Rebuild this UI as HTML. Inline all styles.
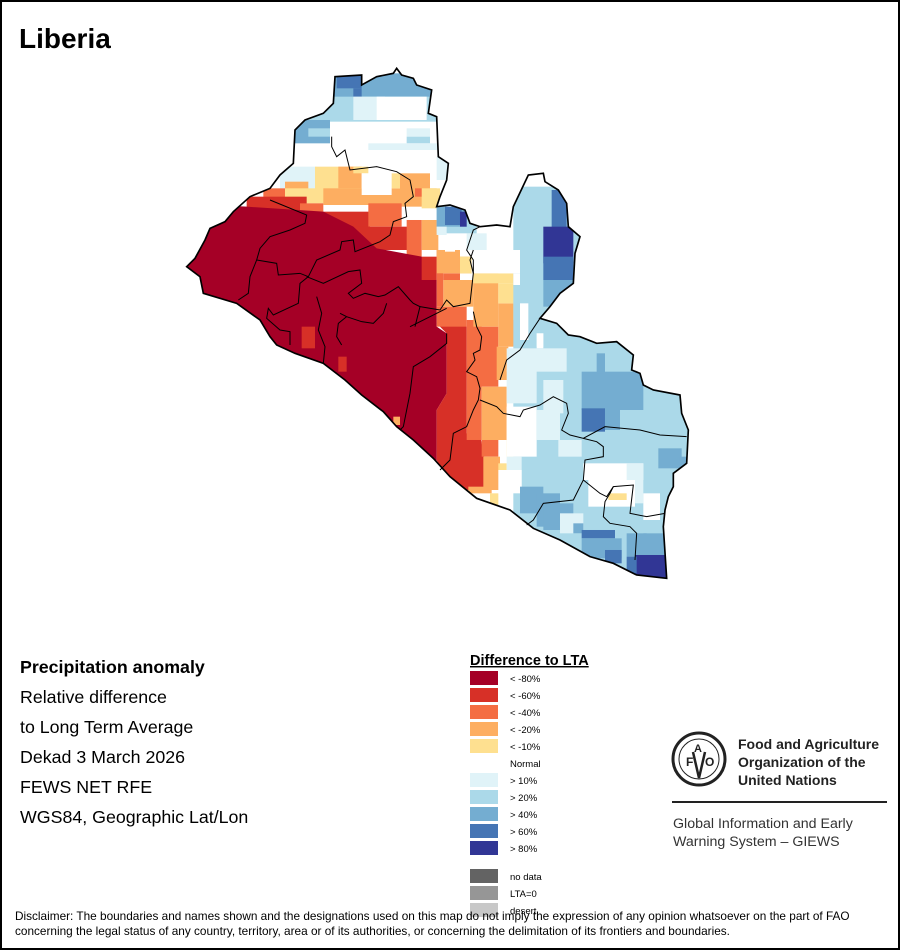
<!DOCTYPE html>
<html><head><meta charset="utf-8"><style>
html,body{margin:0;padding:0;background:#fff}
#root{position:relative;width:900px;height:950px;box-sizing:border-box;border:2px solid #000;overflow:hidden;font-family:"Liberation Sans",Arial,sans-serif}
svg{position:absolute;left:-2px;top:-2px}
</style></head><body>
<div id="root">
<svg id="svg" width="900" height="950" viewBox="0 0 900 950">
<defs>
<clipPath id="clip"><polygon id="outlineClip" points=""/></clipPath>
</defs>
<text x="19" y="48" font-size="28" font-weight="bold">Liberia</text>
<g id="mapg" transform="translate(180,60) scale(0.33333)">
<g clip-path="url(#clip)" id="fills"></g>
<g id="bounds" fill="none" stroke="#000" stroke-width="3"></g>
<polygon id="outline" fill="none" stroke="#000" stroke-width="5" points=""/>
</g>
<g font-size="17.8" fill="#000">
<text x="20" y="673" font-weight="bold">Precipitation anomaly</text>
<text x="20" y="703">Relative difference</text>
<text x="20" y="733">to Long Term Average</text>
<text x="20" y="763">Dekad 3 March 2026</text>
<text x="20" y="793">FEWS NET RFE</text>
<text x="20" y="823">WGS84, Geographic Lat/Lon</text>
</g>
<g id="legend">
<text x="470" y="665" font-size="14.5" font-weight="bold" text-decoration="underline">Difference to LTA</text>
</g>
<g>
<circle cx="699" cy="759" r="26" fill="none" stroke="#222" stroke-width="3"/>
<circle cx="699" cy="759" r="20" fill="none" stroke="#222" stroke-width="1"/>
<text x="686" y="766" font-size="12" font-weight="bold" fill="#222">F</text>
<text x="694" y="752" font-size="11" font-weight="bold" fill="#222">A</text>
<text x="705" y="766" font-size="12" font-weight="bold" fill="#222">O</text>
<path d="M693 752 L699 778 L705 752" fill="none" stroke="#222" stroke-width="2.5"/>
<text x="738" y="749" font-size="14" font-weight="bold" fill="#222">Food and Agriculture</text>
<text x="738" y="767" font-size="14" font-weight="bold" fill="#222">Organization of the</text>
<text x="738" y="785" font-size="14" font-weight="bold" fill="#222">United Nations</text>
<rect x="672" y="801" width="215" height="2" fill="#222"/>
<text x="673" y="828" font-size="14.2" fill="#333">Global Information and Early</text>
<text x="673" y="846" font-size="14.2" fill="#333">Warning System – GIEWS</text>
</g>
<g font-size="11.8" fill="#000">
<text x="15" y="920">Disclaimer: The boundaries and names shown and the designations used on this map do not imply the expression of any opinion whatsoever on the part of FAO</text>
<text x="15" y="935">concerning the legal status of any country, territory, area or of its authorities, or concerning the delimitation of its frontiers and boundaries.</text>
</g>
</svg>
</div>
<script>
const legendLabels=["< -80%","< -60%","< -40%","< -20%","< -10%","Normal","> 10%","> 20%","> 40%","> 60%","> 80%"];
const legendColors=["#a50026","#d73027","#f46d43","#fdae61","#fee090","#ffffff","#e0f3f8","#abd9e9","#74add1","#4575b4","#313695"];
const extraLabels=["no data","LTA=0","desert"];
const extraColors=["#636363","#969696","#c8c8c8"];
const NS="http://www.w3.org/2000/svg";
const lg=document.getElementById('legend');
function legRow(y,color,label){
  const r=document.createElementNS(NS,'rect');
  r.setAttribute('x',470);r.setAttribute('y',y);r.setAttribute('width',28);r.setAttribute('height',14);r.setAttribute('fill',color);
  
  
  lg.appendChild(r);
  const t=document.createElementNS(NS,'text');
  t.setAttribute('x',510);t.setAttribute('y',y+11);t.setAttribute('font-size','9.5');t.textContent=label;
  
  
  lg.appendChild(t);
}
legendLabels.forEach((l,i)=>legRow(671+i*17,legendColors[i],l));
extraLabels.forEach((l,i)=>legRow(869+i*17,extraColors[i],l));

const outline="20,620 45,595 75,540 90,505 135,485 160,455 210,410 270,385 300,345 340,310 345,210 375,180 430,160 460,130 465,50 545,45 545,75 590,50 640,40 650,25 665,45 700,55 710,75 755,90 745,160 770,170 775,290 805,310 800,360 780,410 770,440 810,435 855,450 870,490 900,500 950,495 990,500 1000,440 1045,345 1090,340 1095,365 1135,390 1160,430 1165,500 1200,530 1185,580 1180,670 1140,700 1110,740 1080,775 1130,790 1165,825 1200,830 1250,850 1310,845 1360,885 1355,930 1380,940 1390,975 1420,990 1500,1005 1505,1060 1525,1110 1520,1210 1480,1240 1480,1280 1465,1310 1455,1350 1450,1400 1460,1555 1370,1545 1300,1510 1230,1490 1140,1440 1060,1405 990,1350 890,1315 810,1250 760,1195 700,1140 650,1100 610,1055 545,1005 495,960 430,910 345,880 290,855 270,830 240,780 170,730 70,700 60,650";
document.getElementById('outline').setAttribute('points',outline);
document.getElementById('outlineClip').setAttribute('points',outline);

const fills=document.getElementById('fills');
function poly(c,pts){const p=document.createElementNS(NS,'polygon');p.setAttribute('points',pts);p.setAttribute('fill',c);fills.appendChild(p);}
function rect(c,x,y,w,h){const r=document.createElementNS(NS,'rect');r.setAttribute('x',x);r.setAttribute('y',y);r.setAttribute('width',w);r.setAttribute('height',h);r.setAttribute('fill',c);fills.appendChild(r);}
const C=legendColors;
rect('#fff',0,0,1600,1600);
// north
rect(C[7],340,90,430,95);
rect(C[8],450,40,320,70);
rect(C[9],470,45,75,40);rect(C[9],520,85,25,25);rect(C[9],405,185,25,20);
rect(C[8],340,180,110,70);rect(C[7],385,205,65,25);
rect(C[6],520,110,95,70);rect('#fff',590,110,150,70);
rect(C[6],680,205,70,25);rect(C[7],680,230,70,20);
rect(C[6],565,250,210,20);rect(C[6],770,290,35,70);
rect(C[6],300,320,110,90);
// yellow/orange band
rect(C[4],405,320,140,90);rect(C[3],475,320,70,65);rect(C[4],520,320,45,20);
rect(C[3],315,365,70,45);rect(C[4],315,385,140,45);rect(C[3],430,385,340,50);
rect(C[3],660,340,90,100);rect(C[4],725,385,55,60);rect(C[2],705,385,20,25);
rect('#fff',545,340,90,65);rect(C[4],635,340,25,45);
rect(C[2],250,385,65,50);
// reds
rect(C[1],200,410,180,60);rect(C[2],360,430,70,25);
rect(C[1],430,455,140,50);rect(C[2],565,430,100,70);
rect(C[1],520,500,180,70);rect(C[2],680,480,45,110);rect(C[3],725,480,50,90);
poly(C[0],"0,430 200,440 430,455 520,500 590,565 725,590 770,660 770,800 800,820 800,1000 770,1050 770,1250 700,1300 0,1300");
rect(C[1],365,800,40,65);rect(C[1],475,890,25,45);rect(C[3],640,1070,20,25);
rect(C[1],725,590,45,70);
poly(C[1],"770,790 800,780 860,800 860,1120 900,1120 930,1290 810,1290 770,1200 770,1050 800,1000 800,820");
rect(C[2],770,570,20,170);rect(C[2],790,640,50,20);rect(C[2],770,740,90,60);
rect(C[2],860,780,45,360);rect(C[2],900,800,55,180);rect(C[2],905,1140,50,50);
rect(C[3],770,570,70,70);rect(C[3],790,660,90,80);rect(C[3],840,590,40,50);
rect(C[4],840,590,45,50);
rect(C[3],880,640,75,160);rect(C[3],955,730,65,130);
rect(C[3],950,860,35,100);rect(C[3],905,980,75,160);rect(C[3],910,1190,50,100);rect(C[3],865,1280,70,20);
rect(C[4],880,640,130,30);rect(C[4],955,670,65,60);rect(C[4],1000,730,20,50);
rect(C[4],980,1140,40,50);rect(C[4],955,1210,25,20);rect(C[4],930,1300,25,40);
// east
rect(C[7],1000,380,530,1180);
rect('#fff',875,570,145,70);rect('#fff',1000,640,20,35);
rect(C[6],860,520,60,50);rect(C[7],770,440,120,80);rect(C[8],770,440,90,60);rect(C[9],795,440,50,55);rect(C[10],840,455,20,45);
rect(C[6],770,500,30,25);rect('#fff',795,545,30,30);
rect(C[9],1115,390,45,280);rect(C[10],1090,500,90,110);rect(C[9],1090,590,90,70);rect(C[8],1090,660,90,80);
rect('#fff',1020,730,25,110);rect(C[6],1070,820,20,40);rect('#fff',1070,820,20,45);
rect(C[6],980,865,180,70);rect(C[6],980,930,90,100);rect(C[6],1090,960,60,100);
rect(C[8],1205,935,185,115);rect(C[8],1250,880,25,60);
rect(C[9],1205,1045,70,70);rect(C[8],1275,1050,45,60);
rect('#fff',980,1040,90,150);rect(C[6],980,1190,45,100);rect('#fff',955,1230,70,70);
rect(C[6],1070,1050,70,90);rect(C[6],1135,1140,70,50);
rect(C[8],1435,1165,70,60);rect(C[8],1500,1190,25,30);
rect('#fff',1210,1210,180,50);rect(C[6],1340,1210,50,120);rect('#fff',1225,1260,140,80);
rect(C[4],1285,1300,55,20);rect('#fff',1390,1300,50,80);
rect(C[8],1020,1280,70,80);rect(C[8],1070,1300,70,100);rect(C[8],1090,1330,90,80);
rect(C[6],1140,1360,70,60);rect(C[8],1180,1390,30,30);
rect(C[9],1205,1410,100,25);rect(C[8],1205,1435,120,60);rect(C[8],1340,1420,60,70);
rect(C[9],1275,1470,50,40);rect(C[8],1390,1420,70,70);
rect(C[10],1365,1485,95,70);rect(C[9],1340,1490,30,50);

// internal admin boundaries (approximate)
const bounds=[
"270,420 380,465 375,490 330,510 270,530 240,565 230,600 210,650 205,700 175,720",
"230,600 290,610 295,645 360,640 385,650 410,600 480,570 485,545 520,540 525,575 600,545 630,525 640,485 680,470 675,430 700,410 690,360 650,335 590,320 510,330 495,270 470,290 455,260 455,230",
"385,650 360,670 355,730 280,765 265,745 260,775 300,810 330,815 330,855",
"380,650 430,670 505,635 540,630 545,670 505,700 520,715 555,700 595,710 615,705 655,680 690,720 700,730 720,740 705,800",
"410,710 425,760 415,810 435,860 430,910",
"480,760 500,770 545,785 580,790 610,760 620,730",
"500,770 475,790 470,830 485,855",
"720,740 780,750 800,720 820,740 870,730 880,640 870,600 880,570",
"690,800 750,770 800,745",
"800,820 800,850 750,890 700,920 690,1000 680,1050 670,1100 660,1110",
"880,755 890,800 905,830 900,870 880,880 885,900 860,935 890,950 900,985 895,1020 880,1050 860,1100 820,1120 810,1200 780,1230",
"900,1020 950,1040 970,1060 1020,1070 1030,1050 1080,1035 1120,1010 1160,1030 1165,1060 1145,1110 1170,1125 1210,1135 1275,1100 1380,1110 1440,1125 1520,1130",
"1210,1135 1250,1145 1270,1160 1270,1190 1215,1200 1210,1260 1180,1320 1090,1330 1060,1380 1040,1395",
"1210,1260 1260,1300 1280,1310 1300,1280 1360,1275 1350,1360 1400,1370 1455,1360",
"1300,1280 1290,1300 1275,1325 1270,1370 1290,1390 1350,1400 1370,1420 1365,1500",
"960,960 980,900 1020,870 1050,820 1080,775",
"880,640 880,600 860,570 880,510 900,500"
];
const bg=document.getElementById('bounds');
bounds.forEach(b=>{const p=document.createElementNS(NS,'polyline');p.setAttribute('points',b);


bg.appendChild(p);});
</script>
</body></html>
